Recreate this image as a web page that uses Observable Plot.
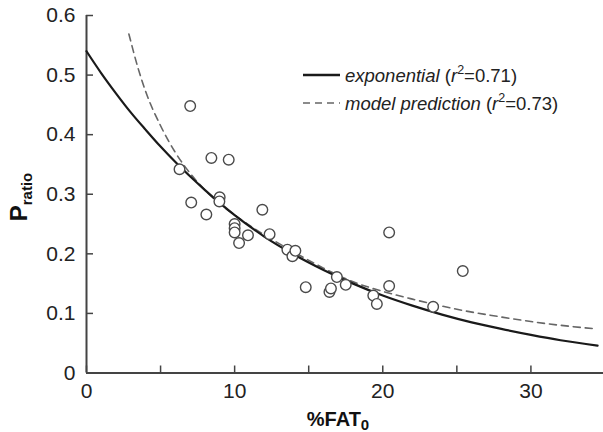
<!DOCTYPE html>
<html>
<head>
<meta charset="utf-8">
<script src="https://cdn.jsdelivr.net/npm/d3@7"></script>
<script src="https://cdn.jsdelivr.net/npm/@observablehq/plot@0.6"></script>
<style>
  html, body { margin: 0; padding: 0; background: #fff; }
  #chart { width: 603px; height: 432px; }
</style>
</head>
<body>
<div id="chart"></div>
<script>
// Observed points (%FAT0, Pratio)
const fat    = [7.0, 8.43, 9.6, 6.28, 8.99, 8.97, 7.07, 8.09, 11.87, 10.0, 10.0, 10.0, 10.3, 10.9, 12.36, 13.56, 13.9, 14.1, 14.8, 16.9, 16.4, 16.5, 17.5, 19.36, 19.6, 20.43, 20.43, 23.4, 25.4];
const pratio = [0.448, 0.361, 0.358, 0.342, 0.295, 0.288, 0.286, 0.266, 0.274, 0.250, 0.243, 0.236, 0.218, 0.231, 0.233, 0.207, 0.196, 0.205, 0.144, 0.161, 0.136, 0.142, 0.148, 0.130, 0.116, 0.146, 0.236, 0.111, 0.171];

// Exponential fit curve
const expX = [0, 1, 2, 3, 4, 5, 6, 8, 10, 12, 14, 16, 18, 20, 22, 24, 26, 28, 30, 32, 34.5];
const expY = [0.54, 0.503, 0.469, 0.437, 0.408, 0.380, 0.354, 0.307, 0.265, 0.229, 0.199, 0.173, 0.150, 0.130, 0.113, 0.098, 0.085, 0.074, 0.064, 0.055, 0.046];

// Model prediction curve
const modX = [2.86, 3.5, 4, 5, 6, 7, 8, 9, 10, 12, 14, 16, 18, 20, 22, 25, 28, 31, 34.4];
const modY = [0.569, 0.51, 0.472, 0.415, 0.37, 0.335, 0.307, 0.284, 0.265, 0.232, 0.203, 0.176, 0.153, 0.137, 0.124, 0.107, 0.094, 0.083, 0.074];

const xTicks = [0, 5, 10, 15, 20, 25, 30];
const xLabels = [0, 10, 20, 30];
const yTicks = [0, 0.1, 0.2, 0.3, 0.4, 0.5, 0.6];

const points = fat.map((f, i) => ({x: f, y: pratio[i]}));
const expData = expX.map((x, i) => ({x, y: expY[i]}));
const modData = modX.map((x, i) => ({x, y: modY[i]}));

const axisColor = "#444";
const font = "Liberation Sans, Arial, Helvetica, sans-serif";

const plot = Plot.plot({
  width: 603,
  height: 432,
  marginLeft: 86,
  marginRight: 0,
  marginTop: 15,
  marginBottom: 59.5,
  style: {fontFamily: font, background: "#fff", overflow: "visible"},
  x: {domain: [0, 34.9]},
  y: {domain: [0, 0.6]},
  marks: [
    Plot.axisX({ticks: xTicks, tickSize: -7, tickPadding: 17, tickFormat: d => xLabels.includes(d) ? String(d) : "", fontSize: 21, stroke: axisColor, strokeWidth: 1.5, fill: "#222", label: null}),
    Plot.axisY({ticks: yTicks, tickSize: -7, tickPadding: 18, tickFormat: d => d === 0 ? "0" : d3.format(".1f")(d), fontSize: 21, stroke: axisColor, strokeWidth: 1.5, fill: "#222", label: null}),
    Plot.ruleY([0], {stroke: axisColor, strokeWidth: 2}),
    Plot.ruleX([0], {stroke: axisColor, strokeWidth: 2}),
    Plot.line(modData, {x: "x", y: "y", stroke: "#666", strokeWidth: 1.6, strokeDasharray: "7,5", curve: "monotone-x"}),
    Plot.line(expData, {x: "x", y: "y", stroke: "#1a1a1a", strokeWidth: 2.2, curve: "monotone-x"}),
    Plot.dot(points, {x: "x", y: "y", r: 5.3, stroke: "#4a4a4a", strokeWidth: 1.4, fill: "#fff"})
  ]
});

document.getElementById("chart").appendChild(plot);

// Axis titles with subscripts and the in-plot legend
const svg = d3.select(plot);

const yt = svg.append("text")
  .attr("transform", "translate(27,197) rotate(-90)")
  .attr("text-anchor", "middle")
  .attr("font-family", font)
  .attr("font-weight", "bold")
  .attr("font-size", 24)
  .attr("fill", "#111");
yt.append("tspan").text("P");
yt.append("tspan").attr("font-size", 15).attr("dy", 5).text("ratio");

const xt = svg.append("text")
  .attr("x", 338)
  .attr("y", 426)
  .attr("text-anchor", "middle")
  .attr("font-family", font)
  .attr("font-weight", "bold")
  .attr("font-size", 20)
  .attr("fill", "#111");
xt.append("tspan").text("%FAT");
xt.append("tspan").attr("font-size", 15).attr("dy", 4).text("0");

const legendItems = [
  {name: "exponential", r2: "0.71", stroke: "#1a1a1a", width: 2.4, dash: null},
  {name: "model prediction", r2: "0.73", stroke: "#666", width: 1.6, dash: "7,5"}
];
const lg = svg.append("g").attr("font-family", font).attr("font-size", 18.5).attr("fill", "#222");
legendItems.forEach((d, i) => {
  const cy = 75 + i * 28;
  lg.append("line").attr("x1", 303).attr("x2", 340).attr("y1", cy).attr("y2", cy)
    .attr("stroke", d.stroke).attr("stroke-width", d.width).attr("stroke-dasharray", d.dash);
  const t = lg.append("text").attr("x", 345).attr("y", cy + 7).attr("text-anchor", "start");
  t.append("tspan").attr("font-style", "italic").text(d.name + " ");
  t.append("tspan").text("(");
  t.append("tspan").attr("font-style", "italic").text("r");
  t.append("tspan").attr("font-size", 12.5).attr("dy", -8).text("2");
  t.append("tspan").attr("dy", 8).text("=" + d.r2 + ")");
});
</script>
</body>
</html>
